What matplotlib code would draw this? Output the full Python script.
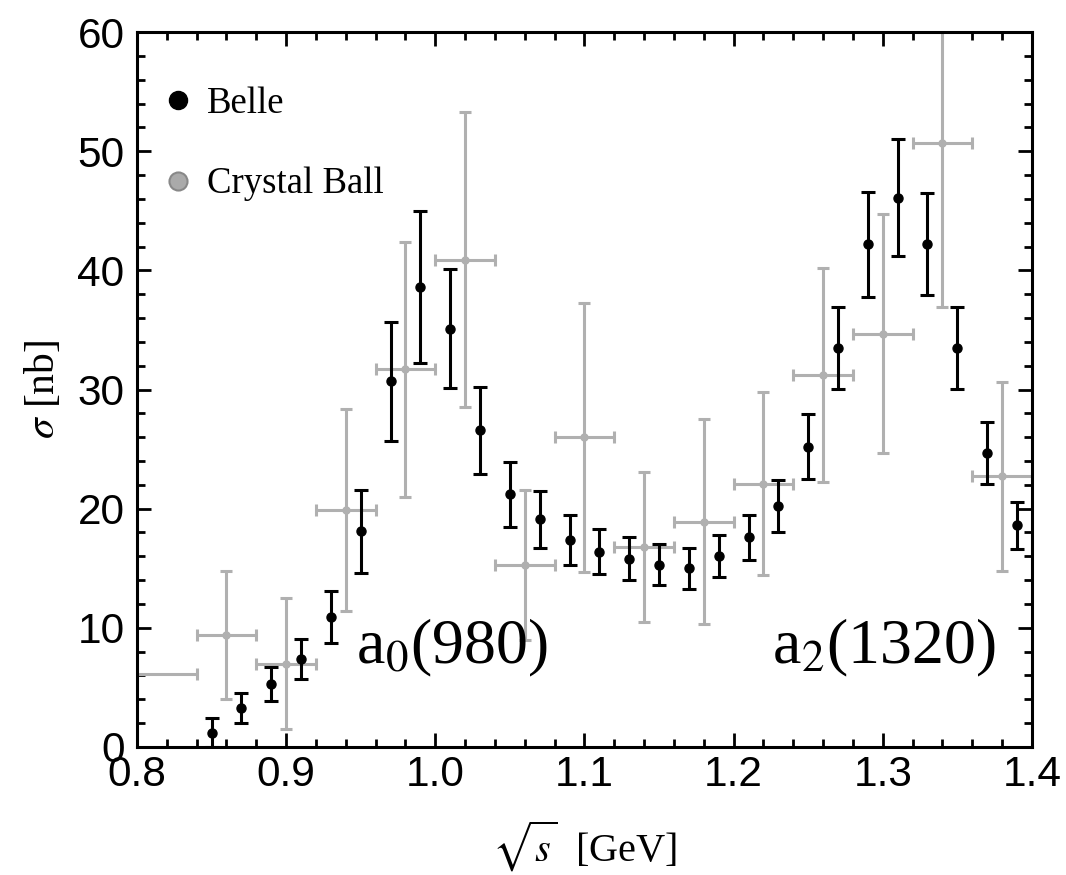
import numpy as np
import matplotlib
matplotlib.use("Agg")
import matplotlib.pyplot as plt
from matplotlib.lines import Line2D
from matplotlib.ticker import MultipleLocator

plt.rcParams['font.family'] = ['Liberation Serif', 'DejaVu Serif']
plt.rcParams['mathtext.fontset'] = 'stix'

# Belle data
belle_x = [0.85, 0.87, 0.89, 0.91, 0.93, 0.95, 0.97, 0.99, 1.01, 1.03,
           1.05, 1.07, 1.09, 1.11, 1.13, 1.15, 1.17, 1.19, 1.21, 1.23,
           1.25, 1.27, 1.29, 1.31, 1.33, 1.35, 1.37, 1.39]
belle_y = [1.2, 3.3, 5.3, 7.4, 10.9, 18.1, 30.7, 38.6, 35.1, 26.6,
           21.2, 19.1, 17.4, 16.4, 15.8, 15.3, 15.0, 16.0, 17.6, 20.2,
           25.2, 33.5, 42.2, 46.1, 42.2, 33.5, 24.7, 18.6]
belle_err = [1.2, 1.25, 1.4, 1.7, 2.2, 3.5, 5.0, 6.4, 5.0, 3.65,
             2.75, 2.4, 2.1, 1.9, 1.8, 1.7, 1.7, 1.75, 1.9, 2.2,
             2.75, 3.45, 4.4, 4.9, 4.3, 3.45, 2.6, 2.0]

# Crystal Ball data
cb_x = [0.78, 0.86, 0.90, 0.94, 0.98, 1.02, 1.06, 1.10, 1.14, 1.18,
        1.22, 1.26, 1.30, 1.34, 1.38]
cb_xerr = [0.06, 0.02, 0.02, 0.02, 0.02, 0.02, 0.02, 0.02, 0.02, 0.02,
           0.02, 0.02, 0.02, 0.02, 0.02]
cb_y = [6.1, 9.4, 7.0, 19.9, 31.7, 40.9, 15.3, 26.0, 16.8, 18.9,
        22.1, 31.2, 34.7, 50.7, 22.7]
cb_err = [0.0, 5.4, 5.5, 8.5, 10.7, 12.4, 6.3, 11.3, 6.3, 8.6,
          7.7, 9.0, 10.0, 13.8, 7.9]

gray = '#b0b0b0'

fig = plt.figure(figsize=(10.66, 8.75), dpi=100)
ax = fig.add_axes([0.1285, 0.1463, 0.8395, 0.8171])

ax.errorbar(cb_x, cb_y, yerr=cb_err, xerr=cb_xerr, fmt='o', color=gray,
            ms=5, elinewidth=2.2, capsize=4.5, capthick=2.2, zorder=2)
ax.errorbar(belle_x, belle_y, yerr=belle_err, fmt='o', color='black',
            ms=6.5, elinewidth=2.2, capsize=4.8, capthick=2.2, zorder=3)

ax.set_xlim(0.8, 1.4)
ax.set_ylim(0, 60)
ax.xaxis.set_major_locator(MultipleLocator(0.1))
ax.xaxis.set_minor_locator(MultipleLocator(0.02))
ax.yaxis.set_major_locator(MultipleLocator(10))
ax.yaxis.set_minor_locator(MultipleLocator(2))
ax.xaxis.set_major_formatter(matplotlib.ticker.FormatStrFormatter('%.1f'))
ax.tick_params(which='both', direction='in', top=True, right=True, width=2)
ax.tick_params(which='major', length=10, labelsize=30.5)
ax.tick_params(axis='x', which='major', pad=6)
ax.tick_params(axis='y', which='major', pad=9)
ax.tick_params(which='minor', length=6)
for lab in ax.get_xticklabels() + ax.get_yticklabels():
    lab.set_family('Liberation Sans')
for sp in ax.spines.values():
    sp.set_linewidth(2.2)

ax.set_xlabel(r'$\sqrt{s}$  [GeV]', fontsize=29, labelpad=17)
ax.set_ylabel(r'$\sigma$ [nb]', fontsize=30, labelpad=10)

ax.text(0.947, 7.05, r'a$_0$(980)', fontsize=46)
ax.text(1.226, 7.05, r'a$_2$(1320)', fontsize=46)

handles = [Line2D([], [], ls='none', marker='o', ms=13, color='black'),
           Line2D([], [], ls='none', marker='o', ms=13, mfc='#aaaaaa',
                  mec='#888888', mew=1.5)]
ax.legend(handles, ['Belle', 'Crystal Ball'], loc='upper left',
          bbox_to_anchor=(-0.008, 0.96), frameon=False, fontsize=26.5,
          handletextpad=0.2, labelspacing=1.25, handlelength=1.2,
          borderaxespad=0.3)

fig.savefig('out.png', dpi=100)
